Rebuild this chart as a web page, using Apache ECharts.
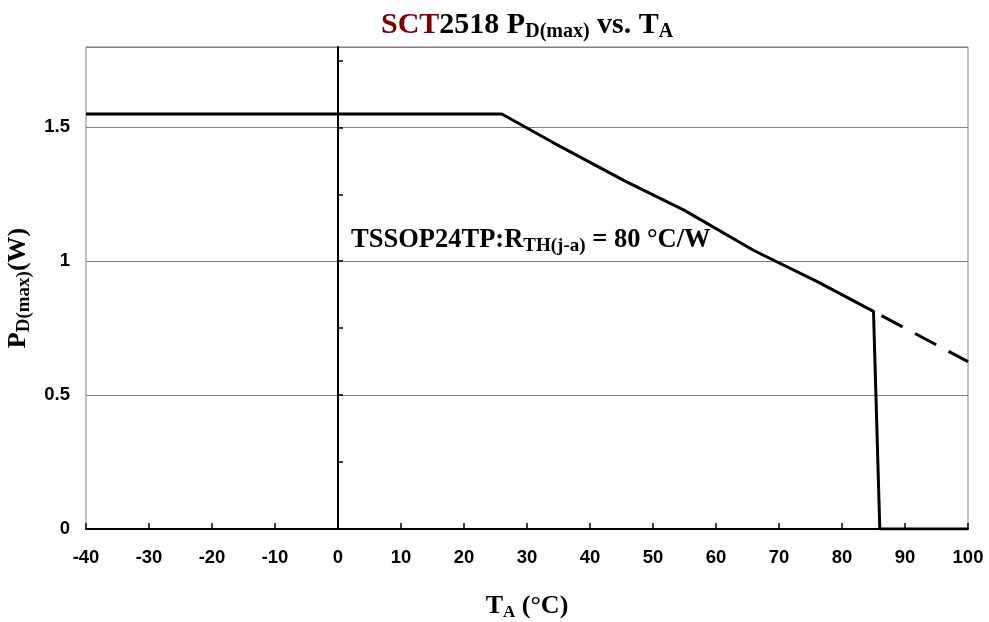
<!DOCTYPE html>
<html>
<head>
<meta charset="utf-8">
<script src="https://cdn.jsdelivr.net/npm/echarts@6/dist/echarts.min.js"></script>
<style>html,body{margin:0;padding:0;background:#fff;}#c{width:989px;height:622px;}</style>
</head>
<body>
<div id="c"></div>
<script>
// ---- data ----
const tempSolid  = [-40, 26, 34, 45.5, 55, 66, 76, 85, 86, 100];
const powerSolid = [1.55, 1.55, 1.445, 1.3, 1.19, 1.04, 0.925, 0.8125, 0, 0];
const tempDashed  = [85, 100];
const powerDashed = [0.8125, 0.625];
const xTicks = [-40, -30, -20, -10, 0, 10, 20, 30, 40, 50, 60, 70, 80, 90, 100];
const yLabelTicks = [0, 0.5, 1, 1.5];
const yMinorTicks = [0.25, 0.5, 0.75, 1, 1.25, 1.5, 1.75];

const SERIF = '"Liberation Serif", "Times New Roman", serif';
const SANS = '"Liberation Sans", Arial, sans-serif';

const zip = (xs, ys) => xs.map((x, i) => [x, ys[i]]);

const chart = echarts.init(document.getElementById('c'));

function rich(big, small, pad) {
  return {
    m: { fontFamily: SERIF, fontWeight: 'bold', fontSize: big, color: '#000', verticalAlign: 'bottom', padding: [0, 0, pad, 0] },
    r: { fontFamily: SERIF, fontWeight: 'bold', fontSize: big, color: '#7f0000', verticalAlign: 'bottom', padding: [0, 0, pad, 0] },
    s: { fontFamily: SERIF, fontWeight: 'bold', fontSize: small, color: '#000', verticalAlign: 'bottom' }
  };
}

chart.setOption({
  animation: false,
  backgroundColor: '#fff',
  title: [
    {
      text: '{r|SCT}{m|2518 P}{s|D(max)}{m| vs. T}{s|A}',
      left: 376, top: 5,
      textStyle: { rich: rich(30, 20, 2) }
    },
    {
      text: '{m|TSSOP24TP:R}{s|TH(j-a)}{m| = 80 °C/W}',
      left: 346, top: 222,
      textStyle: { rich: rich(26.5, 19, 2) }
    }
  ],
  grid: {
    left: 86, right: 21, top: 47, bottom: 93,
    outerBoundsMode: 'none', containLabel: false,
    show: true, borderColor: '#808080', borderWidth: 1
  },
  xAxis: {
    type: 'value', min: -40, max: 100, interval: 10,
    axisLine: { show: true, onZero: false, lineStyle: { color: '#000', width: 2 } },
    axisTick: { show: true, inside: true, length: 6, lineStyle: { color: '#000', width: 1.5 } },
    axisLabel: { fontFamily: SANS, fontWeight: 'bold', fontSize: 18.5, color: '#000', margin: 19,
                 formatter: v => xTicks.includes(v) ? String(v) : '' },
    splitLine: { show: false },
    name: '{m|T}{s|A}{m| (°C)}',
    nameLocation: 'middle', nameGap: 64,
    nameTextStyle: { rich: rich(26, 17, 2) }
  },
  yAxis: [
    {
      type: 'value', min: 0, max: 1.8, interval: 0.25, position: 'left',
      axisLine: { show: true, onZero: true, lineStyle: { color: '#000', width: 2 } },
      axisTick: { show: true, inside: true, length: 5, customValues: yMinorTicks, lineStyle: { color: '#000', width: 1.5 } },
      axisLabel: { show: false },
      splitLine: { show: false }
    },
    {
      type: 'value', min: 0, max: 1.8, interval: 0.5, position: 'left',
      axisLine: { show: false },
      axisTick: { show: false },
      axisLabel: { fontFamily: SANS, fontWeight: 'bold', fontSize: 18.5, color: '#000', margin: 16,
                   formatter: v => yLabelTicks.includes(v) ? String(v) : '' },
      splitLine: { show: true, lineStyle: { color: '#808080', width: 1 } },
      name: '{m|P}{s|D(max)}{m|(W)}',
      nameLocation: 'middle', nameGap: 52, nameRotate: 90,
      nameTextStyle: { rich: rich(26, 19, 2) }
    }
  ],
  series: [
    {
      type: 'line', yAxisIndex: 1, data: zip(tempSolid, powerSolid),
      showSymbol: false, symbol: 'none', z: 5,
      lineStyle: { color: '#000', width: 3 }
    },
    {
      type: 'line', yAxisIndex: 1, data: zip(tempDashed, powerDashed),
      showSymbol: false, symbol: 'none', z: 5,
      lineStyle: { color: '#000', width: 3, type: [24, 14], dashOffset: 29 }
    }
  ]
});
</script>
</body>
</html>
